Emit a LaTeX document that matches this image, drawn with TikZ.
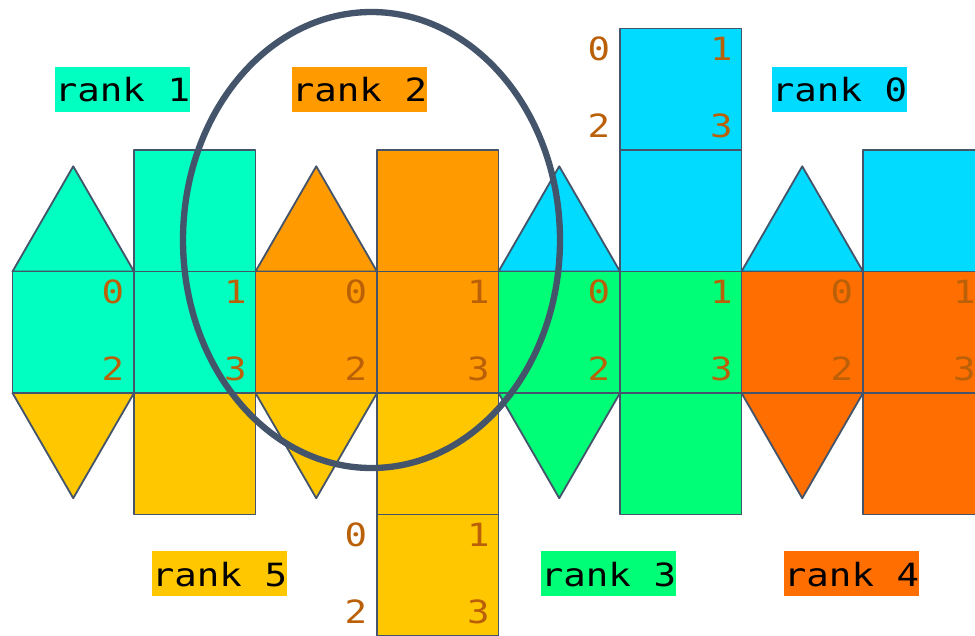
\documentclass[tikz,border=0pt]{standalone}
\usepackage{fontspec}
\newfontfamily\netfont[FakeStretch=1.17]{DejaVu Sans Mono}
\usepackage{xcolor}
\definecolor{cTeal}{HTML}{00FFC0}
\definecolor{cOrange}{HTML}{FF9A00}
\definecolor{cYellow}{HTML}{FFC700}
\definecolor{cGreen}{HTML}{00FF76}
\definecolor{cCyan}{HTML}{00DBFF}
\definecolor{cRed}{HTML}{FF6E00}
\definecolor{cLine}{HTML}{44546A}
\definecolor{cNum}{HTML}{BA6008}
\usepackage{tikz}
\usetikzlibrary{calc}
\tikzset{
  face/.style={draw=cLine,line width=0.55mm,line join=round},
  rank-label/.style={font=\netfont\fontsize{27.3}{27.3}\selectfont,inner sep=0pt,
    minimum width=40.5mm,minimum height=13.5mm,text height=7.5mm,text depth=0pt},
  port-num/.style={font=\netfont\fontsize{27.3}{27.3}\selectfont,text=cNum,
    inner sep=0pt,anchor=base},
  ring/.style={draw=cLine,line width=1.9mm},
}
\newcommand{\cs}{121.5}

\begin{document}
\begin{tikzpicture}[x=0.3mm,y=-0.3mm]
  \clip (0,0) rectangle (975,635);
  % faces of each rank: top / middle / bottom
  \foreach \k/\ctop/\cmid/\cbot in {0/cTeal/cTeal/cYellow,1/cOrange/cOrange/cYellow,
      2/cCyan/cGreen/cGreen,3/cCyan/cRed/cRed}{
    \pgfmathsetmacro{\xa}{12.5+2*\k*\cs}
    \pgfmathsetmacro{\xb}{\xa+\cs}
    \filldraw[face,fill=\ctop] (\xa,271.5) -- ++(\cs,0) -- ++(-\cs/2,-105.2) -- cycle;
    \filldraw[face,fill=\ctop] (\xb,150) rectangle ++(\cs,\cs);
    \filldraw[face,fill=\cmid] (\xa,271.5) rectangle ++(\cs,\cs);
    \filldraw[face,fill=\cmid] (\xb,271.5) rectangle ++(\cs,\cs);
    \filldraw[face,fill=\cbot] (\xa,393) -- ++(\cs,0) -- ++(-\cs/2,105.2) -- cycle;
    \filldraw[face,fill=\cbot] (\xb,393) rectangle ++(\cs,\cs);
  }
  % extra faces
  \filldraw[face,fill=cCyan] (620,28.5) rectangle ++(\cs,\cs);
  \filldraw[face,fill=cYellow] (377,514.5) rectangle ++(\cs,\cs);

  % halo around rank 2
  \draw[ring] (371.5,240) ellipse [x radius=188.5,y radius=228];

  % corner numbers
  \foreach \xe/\yt [count=\i] in {134/271.5,377/271.5,620/271.5,863/271.5,620/28.5,377/514.5}{
    \node[port-num] (p\i-0) at (\xe-21,\yt+31.5) {0};
    \node[port-num] (p\i-1) at (\xe+\cs-20,\yt+31.5) {1};
    \node[port-num] (p\i-2) at (\xe-21,\yt+108.5) {2};
    \node[port-num] (p\i-3) at (\xe+\cs-20,\yt+108.5) {3};
  }

  % rank labels
  \node[rank-label,fill=cTeal]   (r1) at (122.5,89.2)  {rank 1};
  \node[rank-label,fill=cOrange] (r2) at (359.5,89.2)  {rank 2};
  \node[rank-label,fill=cCyan]   (r0) at (839.5,89.2)  {rank 0};
  \node[rank-label,fill=cYellow] (r5) at (219.5,573.5) {rank 5};
  \node[rank-label,fill=cGreen]  (r3) at (608.5,573.5) {rank 3};
  \node[rank-label,fill=cRed]    (r4) at (851.5,573.5) {rank 4};
\end{tikzpicture}
\end{document}
